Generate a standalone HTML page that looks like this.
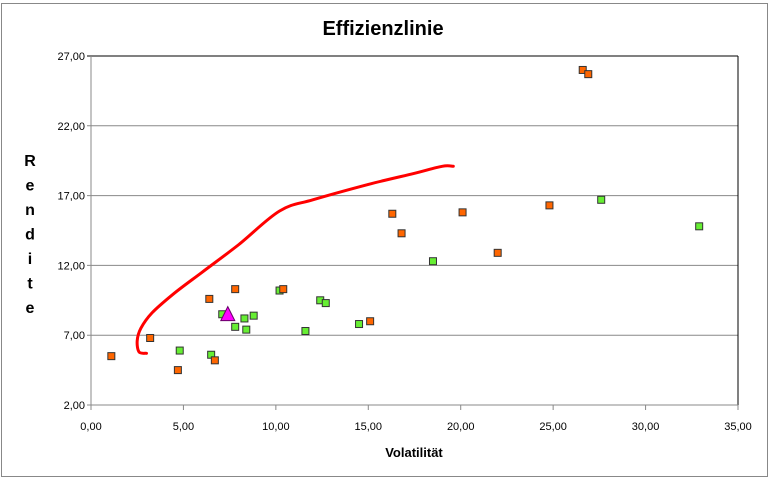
<!DOCTYPE html>
<html><head><meta charset="utf-8"><style>
body{margin:0;background:#fff;}
svg{display:block;font-family:"Liberation Sans",sans-serif;}
</style></head><body>
<svg id="c" width="770" height="480">
<rect x="1.5" y="3.5" width="766" height="473" fill="#fff" stroke="#888"/>
<text x="383" y="35" text-anchor="middle" font-size="20" font-weight="bold">Effizienzlinie</text>
<text x="414" y="457" text-anchor="middle" font-size="13" font-weight="bold">Volatilität</text>
<g id="ytitle" font-size="16" font-weight="bold" text-anchor="middle"></g>
<g id="grid"></g><g id="axes"></g><g id="marks"></g>
</svg>
<script>
const xTicks=[0,5,10,15,20,25,30,35];
const yTicks=[2,7,12,17,22,27];
const orangeX=[1.1,3.2,4.7,6.4,6.7,7.8,10.4,15.1,16.3,16.8,20.1,22.0,24.8,26.6,26.9];
const orangeY=[5.5,6.8,4.5,9.6,5.2,10.3,10.3,8.0,15.7,14.3,15.8,12.9,16.3,26.0,25.7];
const greenX=[4.8,6.5,7.1,7.8,8.3,8.4,8.8,10.2,11.6,12.4,12.7,14.5,18.5,27.6,32.9];
const greenY=[5.9,5.6,8.5,7.6,8.2,7.4,8.4,10.2,7.3,9.5,9.3,7.8,12.3,16.7,14.8];
const triX=[7.4];
const triY=[8.4];
const curveX=[3.0,2.6,2.5,2.7,3.3,4.5,6.0,8.0,10.2,12.0,15.0,17.5,19.0,19.6];
const curveY=[5.7,5.8,6.6,7.5,8.6,10.0,11.5,13.5,15.9,16.7,17.8,18.6,19.1,19.1];
const X0=91,X1=738,Y0=405,Y1=56;
const sx=v=>X0+(v-0)/35*(X1-X0);
const sy=v=>Y0-(v-2)/25*(Y0-Y1);
const NS="http://www.w3.org/2000/svg";
function mk(t,p,parent){const e=document.createElementNS(NS,t);for(const k in p)e.setAttribute(k,p[k]);document.getElementById(parent).appendChild(e);return e;}
const fmt=v=>v.toFixed(2).replace('.',',');
"Rendite".split('').forEach((ch,i)=>{const t=document.createElementNS(NS,'text');t.setAttribute('x',30);t.setAttribute('y',166+i*24.5);t.textContent=ch;document.getElementById('ytitle').appendChild(t);});
yTicks.forEach(v=>{
 const l=mk('line',{x1:X0-4,x2:X1,y1:sy(v),y2:sy(v),stroke:v===27?'#000':'#888','stroke-width':1},'grid');
 
 
 const t=mk('text',{x:X0-6,y:sy(v)+4,'text-anchor':'end','font-size':11},'axes');t.textContent=fmt(v);
 
 
});
xTicks.forEach(v=>{
 const l=mk('line',{x1:sx(v),x2:sx(v),y1:Y0,y2:Y0+5,stroke:'#888'},'axes');
 
 
 const t=mk('text',{x:sx(v),y:Y0+25,'text-anchor':'middle','font-size':11},'axes');t.textContent=fmt(v);
 
 
});
const ax=mk('line',{x1:X0,x2:X0,y1:Y1,y2:Y0,stroke:'#888'},'axes');


const ax2=mk('line',{x1:X1,x2:X1,y1:Y1,y2:Y0,stroke:'#000'},'axes');


const axb=mk('line',{x1:X0,x2:X1,y1:Y0,y2:Y0,stroke:'#888'},'axes');


// smooth curve (Catmull-Rom)
const P=curveX.map((x,i)=>[sx(x),sy(curveY[i])]);
let d='M'+P[0][0].toFixed(1)+' '+P[0][1].toFixed(1);
for(let i=0;i<P.length-1;i++){
 const p0=P[i-1]||P[i],p1=P[i],p2=P[i+1],p3=P[i+2]||P[i+1];
 const c1=[p1[0]+(p2[0]-p0[0])/6,p1[1]+(p2[1]-p0[1])/6];
 const c2=[p2[0]-(p3[0]-p1[0])/6,p2[1]-(p3[1]-p1[1])/6];
 d+=` C${c1[0].toFixed(1)} ${c1[1].toFixed(1)} ${c2[0].toFixed(1)} ${c2[1].toFixed(1)} ${p2[0].toFixed(1)} ${p2[1].toFixed(1)}`;
}
const cv=mk('path',{d:d,fill:'none',stroke:'#f00','stroke-width':3,'stroke-linejoin':'round','stroke-linecap':'round'},'marks');


greenX.forEach((x,i)=>{const r=mk('rect',{x:sx(x)-3.5,y:sy(greenY[i])-3.5,width:7,height:7,fill:'#66ee33',stroke:'#333','stroke-width':1},'marks');
 
 });
orangeX.forEach((x,i)=>{const r=mk('rect',{x:sx(x)-3.5,y:sy(orangeY[i])-3.5,width:7,height:7,fill:'#ff6600',stroke:'#333','stroke-width':1},'marks');
 
 });
triX.forEach((x,i)=>{const cx=sx(x),cy=sy(triY[i]);const p=mk('polygon',{points:`${cx},${cy-9} ${cx-7},${cy+5} ${cx+7},${cy+5}`,fill:'#ff00ff',stroke:'#660066','stroke-width':1},'marks');
 
 });
</script>
</body></html>
